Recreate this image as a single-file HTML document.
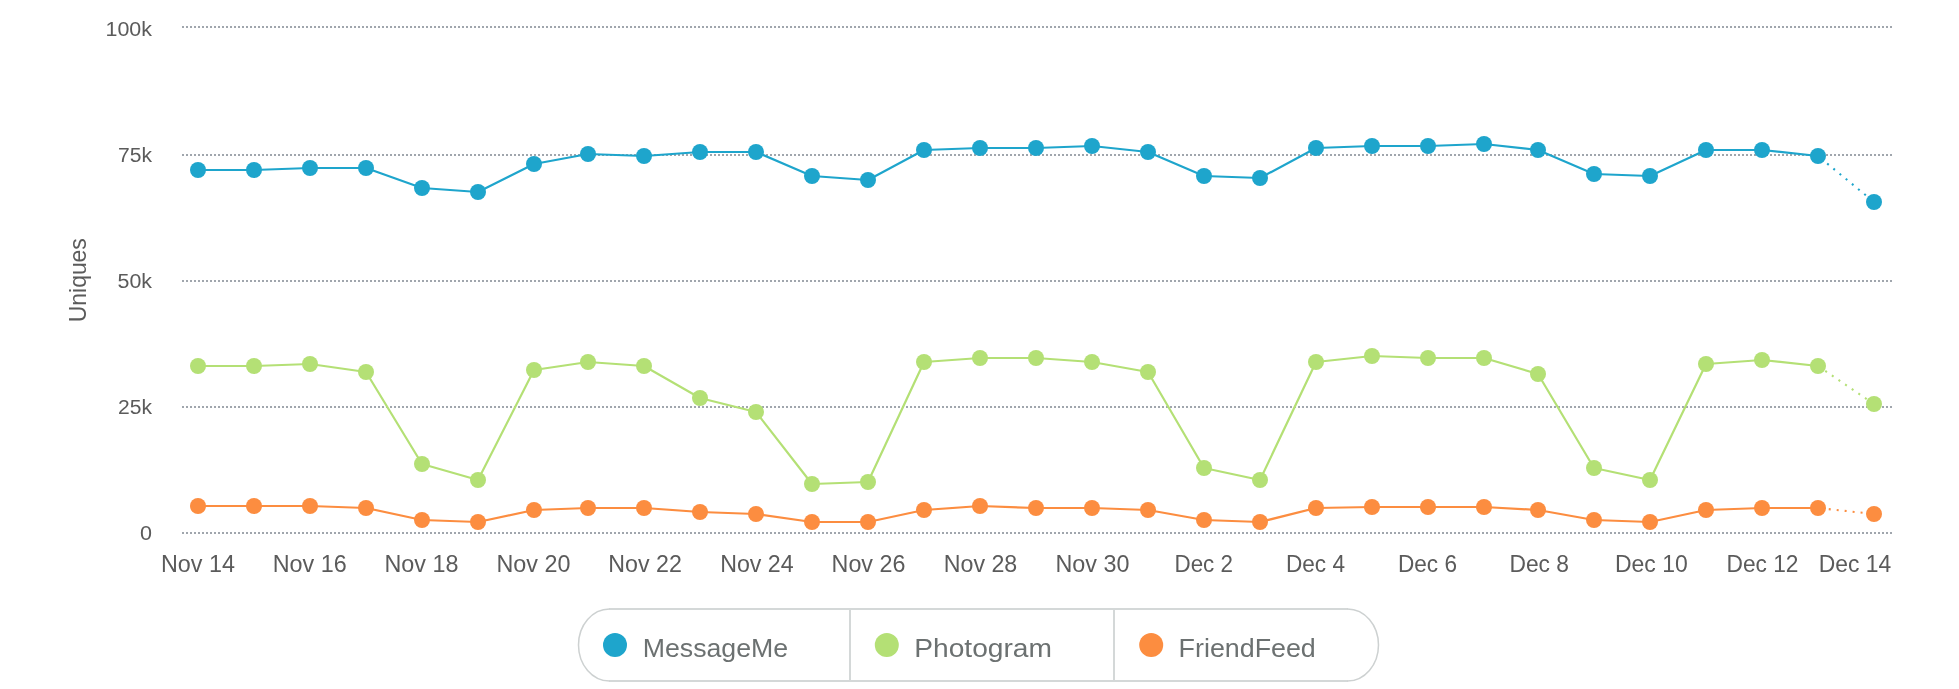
<!DOCTYPE html>
<html><head><meta charset="utf-8"><title>Uniques</title>
<style>
html,body{margin:0;padding:0;background:#fff;}
body{width:1959px;height:689px;overflow:hidden;font-family:"Liberation Sans", sans-serif;}
svg{display:block;will-change:transform;}
text{font-family:"Liberation Sans", sans-serif;}
</style></head><body>
<svg width="1959" height="689" viewBox="0 0 1959 689">
<rect x="0" y="0" width="1959" height="689" fill="#ffffff"/>
<line x1="182" y1="27" x2="1892" y2="27" stroke="#a0a6ad" stroke-width="2" stroke-dasharray="2,2"/>
<line x1="182" y1="155" x2="1892" y2="155" stroke="#a0a6ad" stroke-width="2" stroke-dasharray="2,2"/>
<line x1="182" y1="281" x2="1892" y2="281" stroke="#a0a6ad" stroke-width="2" stroke-dasharray="2,2"/>
<line x1="182" y1="407" x2="1892" y2="407" stroke="#a0a6ad" stroke-width="2" stroke-dasharray="2,2"/>
<line x1="182" y1="533" x2="1892" y2="533" stroke="#a0a6ad" stroke-width="2" stroke-dasharray="2,2"/>
<text x="152" y="36" text-anchor="end" font-size="20.5" fill="#5b5b5b" textLength="46.5" lengthAdjust="spacingAndGlyphs">100k</text>
<text x="152" y="162" text-anchor="end" font-size="20.5" fill="#5b5b5b" textLength="34" lengthAdjust="spacingAndGlyphs">75k</text>
<text x="152" y="288" text-anchor="end" font-size="20.5" fill="#5b5b5b" textLength="34.5" lengthAdjust="spacingAndGlyphs">50k</text>
<text x="152" y="414" text-anchor="end" font-size="20.5" fill="#5b5b5b" textLength="34" lengthAdjust="spacingAndGlyphs">25k</text>
<text x="152" y="540" text-anchor="end" font-size="20.5" fill="#5b5b5b" textLength="12" lengthAdjust="spacingAndGlyphs">0</text>
<text transform="translate(86,280.2) rotate(-90)" text-anchor="middle" font-size="24" fill="#5b5b5b" textLength="84" lengthAdjust="spacingAndGlyphs">Uniques</text>
<text x="198.0" y="572" text-anchor="middle" font-size="24" fill="#5b5b5b" textLength="74" lengthAdjust="spacingAndGlyphs">Nov 14</text>
<text x="309.75" y="572" text-anchor="middle" font-size="24" fill="#5b5b5b" textLength="74" lengthAdjust="spacingAndGlyphs">Nov 16</text>
<text x="421.5" y="572" text-anchor="middle" font-size="24" fill="#5b5b5b" textLength="74" lengthAdjust="spacingAndGlyphs">Nov 18</text>
<text x="533.5" y="572" text-anchor="middle" font-size="24" fill="#5b5b5b" textLength="74" lengthAdjust="spacingAndGlyphs">Nov 20</text>
<text x="645.1" y="572" text-anchor="middle" font-size="24" fill="#5b5b5b" textLength="73.5" lengthAdjust="spacingAndGlyphs">Nov 22</text>
<text x="756.9" y="572" text-anchor="middle" font-size="24" fill="#5b5b5b" textLength="73.5" lengthAdjust="spacingAndGlyphs">Nov 24</text>
<text x="868.5" y="572" text-anchor="middle" font-size="24" fill="#5b5b5b" textLength="73.8" lengthAdjust="spacingAndGlyphs">Nov 26</text>
<text x="980.5" y="572" text-anchor="middle" font-size="24" fill="#5b5b5b" textLength="73.5" lengthAdjust="spacingAndGlyphs">Nov 28</text>
<text x="1092.5" y="572" text-anchor="middle" font-size="24" fill="#5b5b5b" textLength="74" lengthAdjust="spacingAndGlyphs">Nov 30</text>
<text x="1203.75" y="572" text-anchor="middle" font-size="24" fill="#5b5b5b" textLength="58.5" lengthAdjust="spacingAndGlyphs">Dec 2</text>
<text x="1315.5" y="572" text-anchor="middle" font-size="24" fill="#5b5b5b" textLength="59" lengthAdjust="spacingAndGlyphs">Dec 4</text>
<text x="1427.5" y="572" text-anchor="middle" font-size="24" fill="#5b5b5b" textLength="59" lengthAdjust="spacingAndGlyphs">Dec 6</text>
<text x="1539.25" y="572" text-anchor="middle" font-size="24" fill="#5b5b5b" textLength="59.5" lengthAdjust="spacingAndGlyphs">Dec 8</text>
<text x="1651.4" y="572" text-anchor="middle" font-size="24" fill="#5b5b5b" textLength="72.75" lengthAdjust="spacingAndGlyphs">Dec 10</text>
<text x="1762.5" y="572" text-anchor="middle" font-size="24" fill="#5b5b5b" textLength="72" lengthAdjust="spacingAndGlyphs">Dec 12</text>
<text x="1855.0" y="572" text-anchor="middle" font-size="24" fill="#5b5b5b" textLength="72.5" lengthAdjust="spacingAndGlyphs">Dec 14</text>
<polyline points="198,170 254,170 310,168 366,168 422,188 478,192 534,164 588,154 644,156 700,152 756,152 812,176 868,180 924,150 980,148 1036,148 1092,146 1148,152 1204,176 1260,178 1316,148 1372,146 1428,146 1484,144 1538,150 1594,174 1650,176 1706,150 1762,150 1818,156" fill="none" stroke="#1ea5cc" stroke-width="2.2" stroke-linejoin="round" stroke-linecap="round"/>
<line x1="1818" y1="156" x2="1874" y2="202" stroke="#1ea5cc" stroke-width="2.1" stroke-dasharray="2,6" stroke-dashoffset="-3.9"/>
<circle cx="198" cy="170" r="8" fill="#1ea5cc"/>
<circle cx="254" cy="170" r="8" fill="#1ea5cc"/>
<circle cx="310" cy="168" r="8" fill="#1ea5cc"/>
<circle cx="366" cy="168" r="8" fill="#1ea5cc"/>
<circle cx="422" cy="188" r="8" fill="#1ea5cc"/>
<circle cx="478" cy="192" r="8" fill="#1ea5cc"/>
<circle cx="534" cy="164" r="8" fill="#1ea5cc"/>
<circle cx="588" cy="154" r="8" fill="#1ea5cc"/>
<circle cx="644" cy="156" r="8" fill="#1ea5cc"/>
<circle cx="700" cy="152" r="8" fill="#1ea5cc"/>
<circle cx="756" cy="152" r="8" fill="#1ea5cc"/>
<circle cx="812" cy="176" r="8" fill="#1ea5cc"/>
<circle cx="868" cy="180" r="8" fill="#1ea5cc"/>
<circle cx="924" cy="150" r="8" fill="#1ea5cc"/>
<circle cx="980" cy="148" r="8" fill="#1ea5cc"/>
<circle cx="1036" cy="148" r="8" fill="#1ea5cc"/>
<circle cx="1092" cy="146" r="8" fill="#1ea5cc"/>
<circle cx="1148" cy="152" r="8" fill="#1ea5cc"/>
<circle cx="1204" cy="176" r="8" fill="#1ea5cc"/>
<circle cx="1260" cy="178" r="8" fill="#1ea5cc"/>
<circle cx="1316" cy="148" r="8" fill="#1ea5cc"/>
<circle cx="1372" cy="146" r="8" fill="#1ea5cc"/>
<circle cx="1428" cy="146" r="8" fill="#1ea5cc"/>
<circle cx="1484" cy="144" r="8" fill="#1ea5cc"/>
<circle cx="1538" cy="150" r="8" fill="#1ea5cc"/>
<circle cx="1594" cy="174" r="8" fill="#1ea5cc"/>
<circle cx="1650" cy="176" r="8" fill="#1ea5cc"/>
<circle cx="1706" cy="150" r="8" fill="#1ea5cc"/>
<circle cx="1762" cy="150" r="8" fill="#1ea5cc"/>
<circle cx="1818" cy="156" r="8" fill="#1ea5cc"/>
<circle cx="1874" cy="202" r="8" fill="#1ea5cc"/>
<polyline points="198,366 254,366 310,364 366,372 422,464 478,480 534,370 588,362 644,366 700,398 756,412 812,484 868,482 924,362 980,358 1036,358 1092,362 1148,372 1204,468 1260,480 1316,362 1372,356 1428,358 1484,358 1538,374 1594,468 1650,480 1706,364 1762,360 1818,366" fill="none" stroke="#b4e075" stroke-width="2.2" stroke-linejoin="round" stroke-linecap="round"/>
<line x1="1818" y1="366" x2="1874" y2="404" stroke="#b4e075" stroke-width="2.1" stroke-dasharray="2,6" stroke-dashoffset="-0.8"/>
<circle cx="198" cy="366" r="8" fill="#b4e075"/>
<circle cx="254" cy="366" r="8" fill="#b4e075"/>
<circle cx="310" cy="364" r="8" fill="#b4e075"/>
<circle cx="366" cy="372" r="8" fill="#b4e075"/>
<circle cx="422" cy="464" r="8" fill="#b4e075"/>
<circle cx="478" cy="480" r="8" fill="#b4e075"/>
<circle cx="534" cy="370" r="8" fill="#b4e075"/>
<circle cx="588" cy="362" r="8" fill="#b4e075"/>
<circle cx="644" cy="366" r="8" fill="#b4e075"/>
<circle cx="700" cy="398" r="8" fill="#b4e075"/>
<circle cx="756" cy="412" r="8" fill="#b4e075"/>
<circle cx="812" cy="484" r="8" fill="#b4e075"/>
<circle cx="868" cy="482" r="8" fill="#b4e075"/>
<circle cx="924" cy="362" r="8" fill="#b4e075"/>
<circle cx="980" cy="358" r="8" fill="#b4e075"/>
<circle cx="1036" cy="358" r="8" fill="#b4e075"/>
<circle cx="1092" cy="362" r="8" fill="#b4e075"/>
<circle cx="1148" cy="372" r="8" fill="#b4e075"/>
<circle cx="1204" cy="468" r="8" fill="#b4e075"/>
<circle cx="1260" cy="480" r="8" fill="#b4e075"/>
<circle cx="1316" cy="362" r="8" fill="#b4e075"/>
<circle cx="1372" cy="356" r="8" fill="#b4e075"/>
<circle cx="1428" cy="358" r="8" fill="#b4e075"/>
<circle cx="1484" cy="358" r="8" fill="#b4e075"/>
<circle cx="1538" cy="374" r="8" fill="#b4e075"/>
<circle cx="1594" cy="468" r="8" fill="#b4e075"/>
<circle cx="1650" cy="480" r="8" fill="#b4e075"/>
<circle cx="1706" cy="364" r="8" fill="#b4e075"/>
<circle cx="1762" cy="360" r="8" fill="#b4e075"/>
<circle cx="1818" cy="366" r="8" fill="#b4e075"/>
<circle cx="1874" cy="404" r="8" fill="#b4e075"/>
<polyline points="198,506 254,506 310,506 366,508 422,520 478,522 534,510 588,508 644,508 700,512 756,514 812,522 868,522 924,510 980,506 1036,508 1092,508 1148,510 1204,520 1260,522 1316,508 1372,507 1428,507 1484,507 1538,510 1594,520 1650,522 1706,510 1762,508 1818,508" fill="none" stroke="#fc8d40" stroke-width="2.2" stroke-linejoin="round" stroke-linecap="round"/>
<line x1="1818" y1="508" x2="1874" y2="514" stroke="#fc8d40" stroke-width="2.1" stroke-dasharray="2,6" stroke-dashoffset="-2.8"/>
<circle cx="198" cy="506" r="8" fill="#fc8d40"/>
<circle cx="254" cy="506" r="8" fill="#fc8d40"/>
<circle cx="310" cy="506" r="8" fill="#fc8d40"/>
<circle cx="366" cy="508" r="8" fill="#fc8d40"/>
<circle cx="422" cy="520" r="8" fill="#fc8d40"/>
<circle cx="478" cy="522" r="8" fill="#fc8d40"/>
<circle cx="534" cy="510" r="8" fill="#fc8d40"/>
<circle cx="588" cy="508" r="8" fill="#fc8d40"/>
<circle cx="644" cy="508" r="8" fill="#fc8d40"/>
<circle cx="700" cy="512" r="8" fill="#fc8d40"/>
<circle cx="756" cy="514" r="8" fill="#fc8d40"/>
<circle cx="812" cy="522" r="8" fill="#fc8d40"/>
<circle cx="868" cy="522" r="8" fill="#fc8d40"/>
<circle cx="924" cy="510" r="8" fill="#fc8d40"/>
<circle cx="980" cy="506" r="8" fill="#fc8d40"/>
<circle cx="1036" cy="508" r="8" fill="#fc8d40"/>
<circle cx="1092" cy="508" r="8" fill="#fc8d40"/>
<circle cx="1148" cy="510" r="8" fill="#fc8d40"/>
<circle cx="1204" cy="520" r="8" fill="#fc8d40"/>
<circle cx="1260" cy="522" r="8" fill="#fc8d40"/>
<circle cx="1316" cy="508" r="8" fill="#fc8d40"/>
<circle cx="1372" cy="507" r="8" fill="#fc8d40"/>
<circle cx="1428" cy="507" r="8" fill="#fc8d40"/>
<circle cx="1484" cy="507" r="8" fill="#fc8d40"/>
<circle cx="1538" cy="510" r="8" fill="#fc8d40"/>
<circle cx="1594" cy="520" r="8" fill="#fc8d40"/>
<circle cx="1650" cy="522" r="8" fill="#fc8d40"/>
<circle cx="1706" cy="510" r="8" fill="#fc8d40"/>
<circle cx="1762" cy="508" r="8" fill="#fc8d40"/>
<circle cx="1818" cy="508" r="8" fill="#fc8d40"/>
<circle cx="1874" cy="514" r="8" fill="#fc8d40"/>
<path d="M609,609 H1348 M609,681 H1348 M850,609 V681 M1114,609 V681" fill="none" stroke="#d4d8d8" stroke-width="2"/>
<path d="M609.5,609 A31,36 0 0 0 609.5,681 M1347.5,609 A31,36 0 0 1 1347.5,681" fill="none" stroke="#cdd1d1" stroke-width="1.5"/>
<circle cx="615" cy="645" r="12" fill="#1ea5cc"/>
<text x="642.7" y="656.5" font-size="26.5" fill="#6c7171" textLength="145.5" lengthAdjust="spacingAndGlyphs">MessageMe</text>
<circle cx="886.8" cy="645" r="12" fill="#b4e075"/>
<text x="914.2" y="656.5" font-size="26.5" fill="#6c7171" textLength="137.8" lengthAdjust="spacingAndGlyphs">Photogram</text>
<circle cx="1151.2" cy="645" r="12" fill="#fc8d40"/>
<text x="1178.6" y="656.5" font-size="26.5" fill="#6c7171" textLength="137.2" lengthAdjust="spacingAndGlyphs">FriendFeed</text>
</svg>
</body></html>
